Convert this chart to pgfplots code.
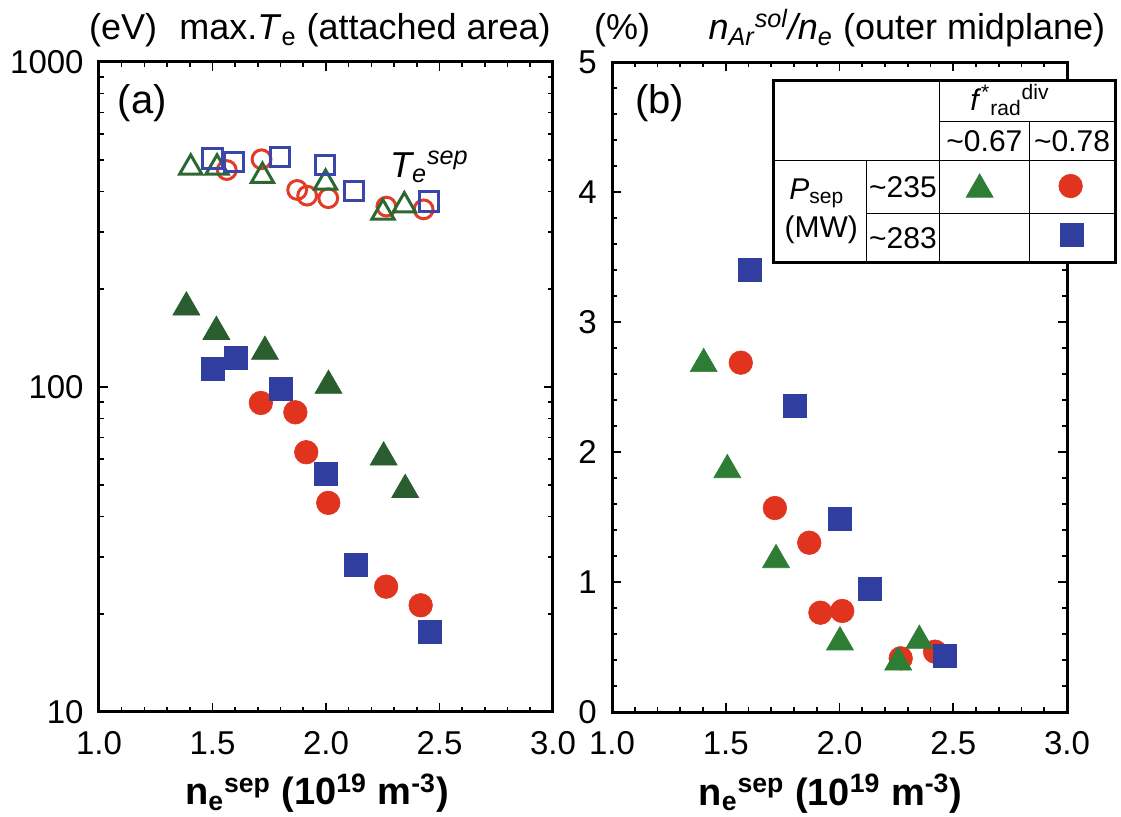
\documentclass[border=0pt]{standalone}
\usepackage{fontspec}
\setmainfont{Liberation Sans}
\usepackage{pgfplots}
\pgfplotsset{compat=1.18}
\definecolor{cred}{RGB}{224,52,31}
\definecolor{cgreen}{RGB}{42,94,48}
\definecolor{cgreenb}{RGB}{46,125,52}
\definecolor{cblue}{RGB}{48,62,160}
\definecolor{ored}{RGB}{226,60,40}
\definecolor{ogreen}{RGB}{44,104,50}
\definecolor{oblue}{RGB}{58,70,170}
\newcommand{\fs}[1]{\fontsize{#1}{#1}\selectfont}
\pgfplotsset{
  panel/.style={
    scale only axis, width=227pt, height=325pt,
    xmin=1, xmax=3, xtick={1,1.5,2,2.5,3}, xticklabels={1.0,1.5,2.0,2.5,3.0},
    minor x tick num=4,
    tick align=inside,
    axis line style={line width=1.5pt},
    tick style={black, line width=0.8pt},
    major tick length=4.5pt, minor tick length=2.5pt,
    tick label style={font=\fs{16.5}, inner sep=1pt},
    xticklabel style={yshift=-8.5pt},
    yticklabel style={xshift=-6.5pt},
    clip=false,
    xlabel={\textbf{n\textsubscript{e}\textsuperscript{sep} (10\textsuperscript{19} m\textsuperscript{-3})}},
    xlabel style={at={(axis description cs:0.48,0)}, anchor=base, yshift=-46.5pt, font=\bfseries\fs{19}},
  },
  fcirc/.style={only marks, mark=*, mark size=5.9pt, mark options={fill=cred, draw=cred, line width=0.3pt}},
  fsq/.style={only marks, mark=square*, mark size=5.75pt, mark options={fill=cblue, draw=cblue, line width=0.3pt}},
  ftri/.style={only marks, mark=triangle*, mark size=7.8pt, mark options={fill=#1, draw=#1, line width=0.3pt}},
  ocirc/.style={only marks, mark=o, mark size=4.7pt, mark options={draw=ored, line width=1.5pt}},
  osq/.style={only marks, mark=square, mark size=4.8pt, mark options={draw=oblue, line width=1.5pt}},
  otri/.style={only marks, mark=triangle, mark size=6.4pt, mark options={draw=ogreen, line width=1.5pt}},
}
\begin{document}
\begin{tikzpicture}
\useasboundingbox (0,0) rectangle (560.5pt,408pt);
% ---------------- panel (a)
\begin{axis}[panel, at={(49.5pt,52pt)}, anchor=south west,
  ymode=log, ymin=10, ymax=1000, ytick={10,100,1000}, yticklabels={10,100,1000},
  minor ytick={20,30,40,50,60,70,80,90,200,300,400,500,600,700,800,900}]
% open markers (T_e^sep)
\addplot[ocirc] coordinates {(1.563,465) (1.716,502) (1.873,404) (1.917,388) (2.010,381) (2.266,359) (2.430,352)};
\addplot[otri] coordinates {(1.404,473) (1.520,473) (1.720,446) (1.998,425) (2.251,344) (2.345,362)};
\addplot[osq] coordinates {(1.500,505) (1.595,492) (1.796,509) (1.995,482) (2.122,401) (2.452,372)};
% filled markers
\addplot[fcirc] coordinates {(1.713,89.3) (1.865,83.6) (1.913,63) (2.010,44) (2.265,24.3) (2.417,21.3)};
\addplot[ftri=cgreen] coordinates {(1.385,176) (1.517,148) (1.731,128.5) (2.011,101) (2.254,60.8) (2.349,48.3)};
\addplot[fsq] coordinates {(1.502,114) (1.602,123) (1.800,99) (2.001,54) (2.130,28.3) (2.456,17.6)};
\node[anchor=base, font=\fs{18}] at (axis description cs:0.053,1.034) {(eV)};
\node[anchor=base, font=\fs{18}] at (axis description cs:0.586,1.034) {max.\textit{T}\textsubscript{e} (attached area)};
\node[anchor=base, font=\fs{20}] at (axis description cs:0.095,0.9215) {(a)};
\node[anchor=base west, font=\fs{18}] at (axis description cs:0.6256,0.823) {\textit{T\textsubscript{e}\textsuperscript{sep}}};
\end{axis}
% ---------------- panel (b)
\begin{axis}[panel, at={(306pt,52pt)}, anchor=south west, width=227.5pt,
  ymin=0, ymax=5, ytick={0,1,2,3,4,5}, yticklabels={0,1,2,3,4,5}, minor y tick num=4]
\addplot[fcirc] coordinates {(1.566,2.687) (1.716,1.569) (1.867,1.302) (1.916,0.764) (2.012,0.777) (2.269,0.413) (2.420,0.464)};
\addplot[ftri=cgreenb] coordinates {(1.403,2.678) (1.507,1.862) (1.721,1.170) (2.002,0.537) (2.258,0.383) (2.351,0.549)};
\addplot[fsq] coordinates {(1.607,3.400) (1.804,2.354) (2.002,1.487) (2.134,0.944) (2.464,0.431)};
\node[anchor=base, font=\fs{18}] at (axis description cs:0.022,1.034) {(\%)};
\node[anchor=base, font=\fs{18}] at (axis description cs:0.648,1.034) {\textit{n\textsubscript{Ar}\textsuperscript{sol}/n\textsubscript{e}} (outer midplane)};
\node[anchor=base, font=\fs{20}] at (axis description cs:0.105,0.9215) {(b)};
% legend table
\filldraw[fill=white, draw=black, line width=1.5pt] (axis cs:1.712,3.459) rectangle (axis cs:3.211,4.8615);
\draw[line width=0.5pt] (axis cs:2.4387,3.459) -- (axis cs:2.4387,4.8615);
\draw[line width=0.5pt] (axis cs:2.836,3.459) -- (axis cs:2.836,4.5408);
\draw[line width=0.5pt] (axis cs:2.1196,3.459) -- (axis cs:2.1196,4.2408);
\draw[line width=0.5pt] (axis cs:2.4387,4.5408) -- (axis cs:3.211,4.5408);
\draw[line width=0.5pt] (axis cs:1.712,4.2408) -- (axis cs:3.211,4.2408);
\draw[line width=0.5pt] (axis cs:2.1196,3.836) -- (axis cs:3.211,3.836);
\draw[black, line width=1.5pt] (axis cs:1.712,3.459) rectangle (axis cs:3.211,4.8615);
\node[font=\fs{15}] at (axis cs:2.749,4.708) {\textit{f}\textsuperscript{*}\textsubscript{rad}\textsuperscript{div}};
\node[font=\fs{15}] at (axis cs:2.637,4.392) {\textasciitilde 0.67};
\node[font=\fs{15}] at (axis cs:3.022,4.392) {\textasciitilde 0.78};
\node[font=\fs{15}] at (axis cs:1.900,3.992) {\textit{P}\textsubscript{sep}};
\node[font=\fs{15}] at (axis cs:1.920,3.708) {(MW)};
\node[font=\fs{15}] at (axis cs:2.279,4.038) {\textasciitilde 235};
\node[font=\fs{15}] at (axis cs:2.279,3.646) {\textasciitilde 283};
\addplot[ftri=cgreenb] coordinates {(2.616,4.02)};
\addplot[fcirc] coordinates {(3.016,4.046)};
\addplot[fsq] coordinates {(3.020,3.667)};
\end{axis}
\end{tikzpicture}
\end{document}
